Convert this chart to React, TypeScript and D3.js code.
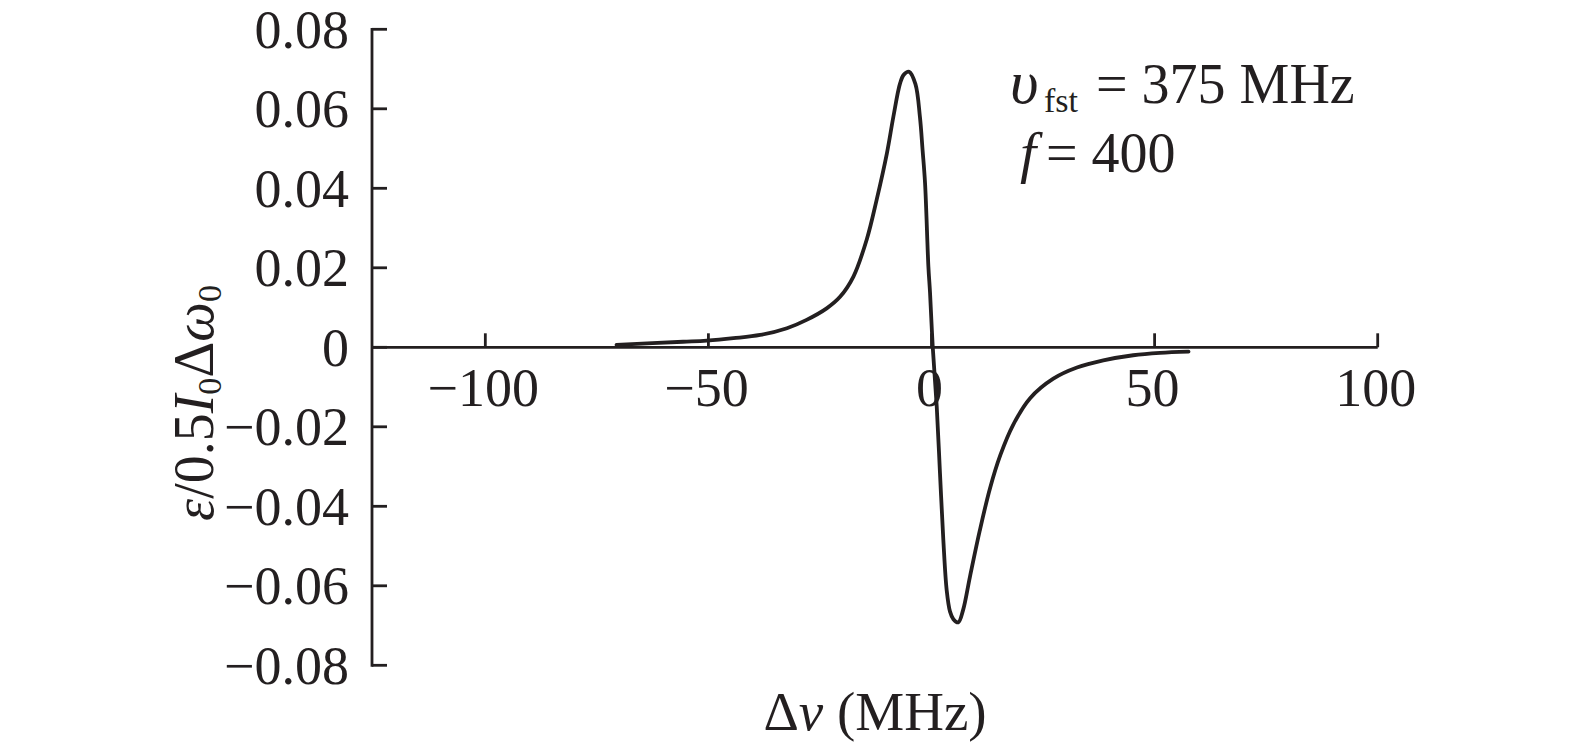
import React from 'react';
import * as d3 from 'd3';

// Curve: Δν (MHz) vs ε/0.5 I0 Δω0
const curveX = [
  -70.6, -55.7, -50.4, -44.4, -38.4, -32.4, -28.0, -23.5, -20.5, -17.5, -14.5,
  -12.3, -10.0, -8.55, -7.05, -6.2, -5.0, -3.6, -2.6, -2.0, -1.45, -0.7, -0.33,
  0.28, 1.17, 1.9, 2.65, 3.4, 4.15, 4.9, 6.0, 7.1, 8.6, 10.8, 13.1, 15.4, 18.3,
  22.1, 27.3, 32.6, 38.5, 45.2, 51.2, 57.6,
];
const curveY = [
  0.0006, 0.0014, 0.0017, 0.0023, 0.0031, 0.0048, 0.0069, 0.0098, 0.0127, 0.0178,
  0.0272, 0.0371, 0.0488, 0.058, 0.0664, 0.0686, 0.0693, 0.0662, 0.058, 0.0496,
  0.0413, 0.0203, 0.0137, 0.0, -0.0149, -0.0317, -0.0485, -0.0611, -0.0665, -0.0684,
  -0.0692, -0.066, -0.0578, -0.0462, -0.0355, -0.0272, -0.0195, -0.0128, -0.0079,
  -0.0051, -0.0033, -0.0020, -0.0014, -0.0011,
];

const xTickValues = [-100, -50, 0, 50, 100];
const xTickLabels = ['\u2212100', '\u221250', '0', '50', '100'];
const yTickValues = [-0.08, -0.06, -0.04, -0.02, 0, 0.02, 0.04, 0.06, 0.08];
const yTickLabels = ['\u22120.08', '\u22120.06', '\u22120.04', '\u22120.02', '0', '0.02', '0.04', '0.06', '0.08'];
const xDomain = [-125.4, 100];
const yDomain = [-0.08, 0.08];

const FONT = "'Liberation Serif', 'Times New Roman', serif";
const INK = '#231f20';

export default function App() {
  const W = 1575;
  const H = 748;
  const x = d3.scaleLinear().domain(xDomain).range([372, 1377.7]);
  const y = d3.scaleLinear().domain(yDomain).range([665.3, 29.3]);
  const idx = curveX.map((_, i) => i);
  const line = d3
    .line<number>()
    .x((i) => x(curveX[i]))
    .y((i) => y(curveY[i]))
    .curve(d3.curveCatmullRom.alpha(0.5));

  const x0 = x(xDomain[0]);
  const y0 = y(0);

  return (
    <svg
      width={W}
      height={H}
      style={{ position: 'absolute', left: 0, top: 0, background: '#fff' }}
      fontFamily={FONT}
    >
      <rect width={W} height={H} fill="#fff" />
      {/* y axis */}
      <line x1={x0} x2={x0} y1={y(yDomain[1])} y2={y(yDomain[0])} stroke={INK} strokeWidth={2.8} strokeLinecap="square" />
      {yTickValues.map((v, i) => (
        <g key={'yt' + i}>
          <line x1={x0} x2={x0 + 15} y1={y(v)} y2={y(v)} stroke={INK} strokeWidth={2.8} />
          <text x={349} y={y(v)} dy="0.34em" textAnchor="end" fontSize={54} fill={INK}>
            {yTickLabels[i]}
          </text>
        </g>
      ))}
      {/* x axis */}
      <line x1={x0} x2={x(xDomain[1])} y1={y0} y2={y0} stroke={INK} strokeWidth={2.8} />
      {xTickValues.map((v, i) => (
        <g key={'xt' + i}>
          <line x1={x(v)} x2={x(v)} y1={y0} y2={y0 - 14} stroke={INK} strokeWidth={2.8} />
          <text x={x(v) - 2} y={406} textAnchor="middle" fontSize={54} fill={INK}>
            {xTickLabels[i]}
          </text>
        </g>
      ))}
      {/* curve */}
      <path d={line(idx) || ''} fill="none" stroke={INK} strokeWidth={3.8} strokeLinejoin="round" strokeLinecap="round" />

      {/* axis labels */}
      <text x={875} y={730} textAnchor="middle" fontSize={55} fill={INK}>
        {'\u0394'}
        <tspan fontStyle="italic">v</tspan>
        {' (MHz)'}
      </text>
      <text transform="translate(213,403) rotate(-90)" textAnchor="middle" fontSize={56} fill={INK}>
        <tspan fontStyle="italic">ε</tspan>
        <tspan>/0.5</tspan>
        <tspan fontStyle="italic">I</tspan>
        <tspan fontSize={34} dy={8}>0</tspan>
        <tspan dy={-8}>Δ</tspan>
        <tspan fontStyle="italic">ω</tspan>
        <tspan fontSize={34} dy={8}>0</tspan>
      </text>

      {/* annotation */}
      <g fill={INK} fontSize={56}>
        <text x={1010} y={103} fontStyle="italic" fontSize={62}>υ</text>
        <text x={1044} y={112} fontSize={34}>fst</text>
        <text x={1096} y={103}>= 375 MHz</text>
        <text x={1020} y={172} fontStyle="italic" fontSize={58}>f</text>
        <text x={1046} y={172}>= 400</text>
      </g>
    </svg>
  );
}
